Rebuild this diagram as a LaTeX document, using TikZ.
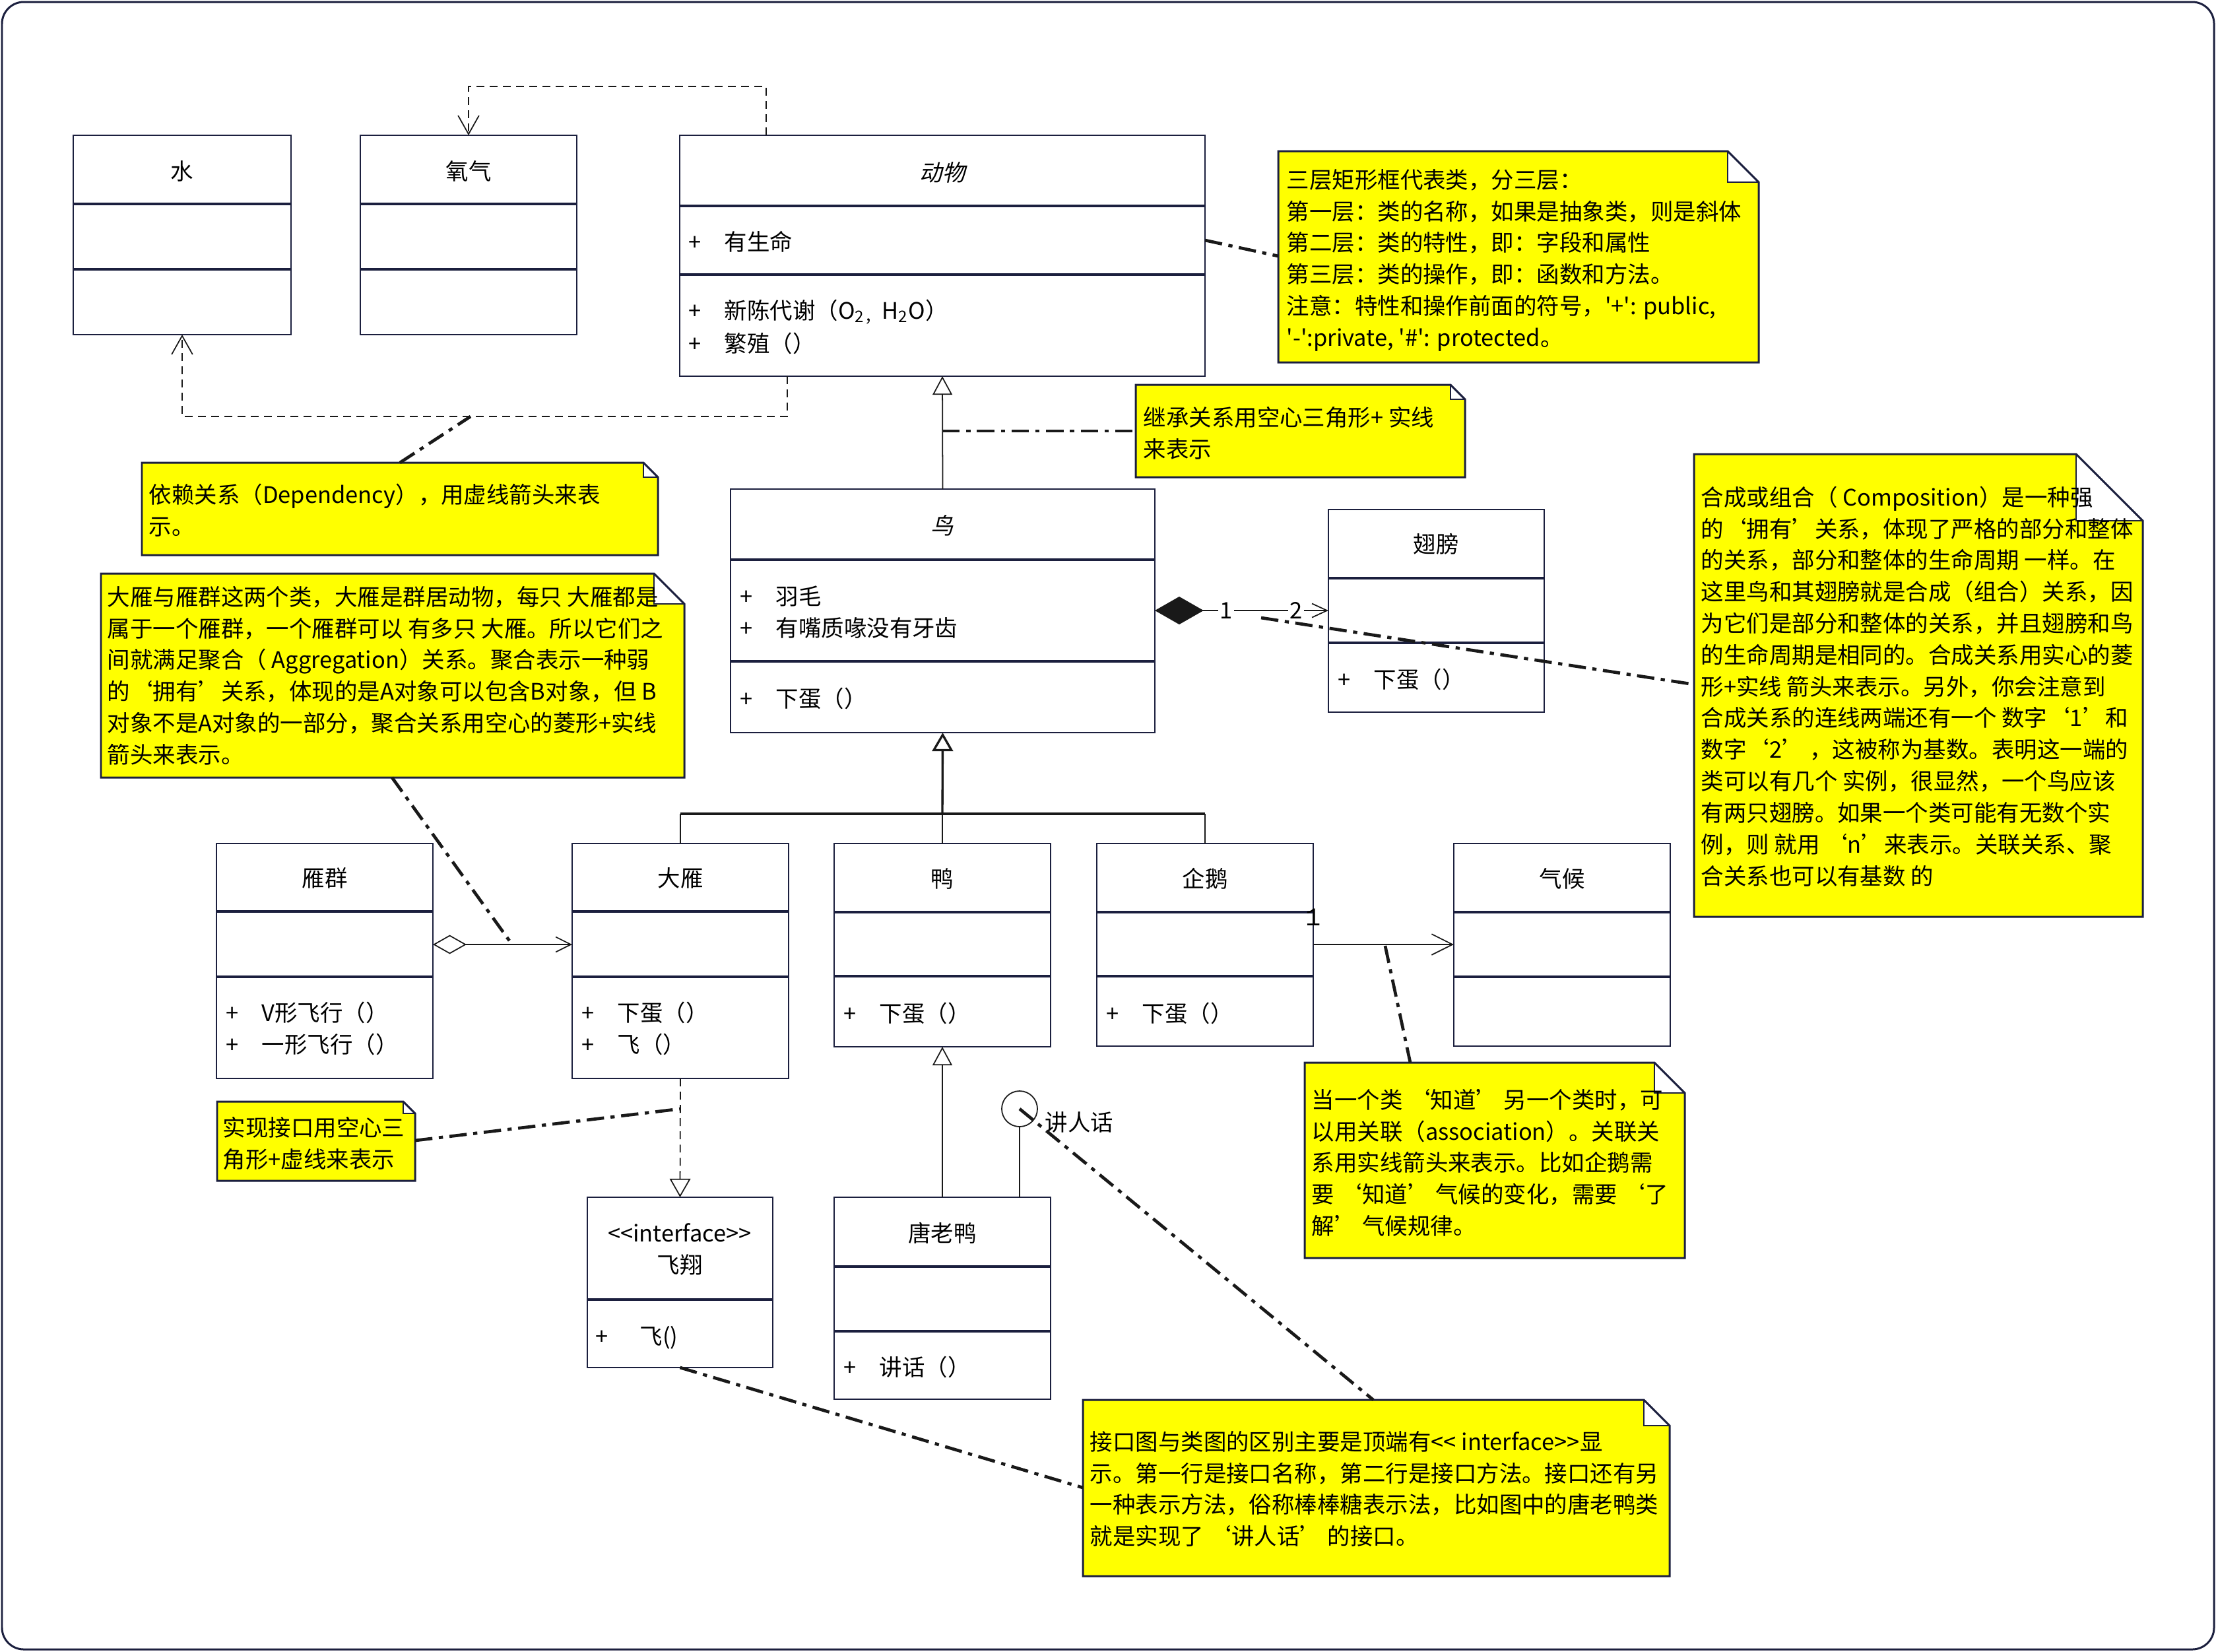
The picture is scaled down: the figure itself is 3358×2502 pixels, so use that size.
\documentclass[tikz,border=0pt]{standalone}
\usepackage{fontspec}
\setmainfont{Noto Sans CJK SC}[Ligatures=TeXOff]
\newfontfamily\slantfont{Noto Sans CJK SC}[FakeSlant=0.22]
\newfontfamily\digitfont{Liberation Mono}
\usetikzlibrary{arrows.meta,fit,calc}
\definecolor{navyline}{RGB}{27,31,62}
\definecolor{noteyellow}{RGB}{255,255,0}
\definecolor{connline}{RGB}{25,25,25}

\tikzset{
  clsbox/.style={draw=navyline, line width=0.6pt, inner sep=0pt, outer sep=0pt},
  clssep/.style={draw=navyline, line width=0.95pt},
  clsname/.style={inner sep=0pt, anchor=base},
  member/.style={inner sep=0pt, anchor=base west},
  noteshape/.style={fill=noteyellow},
  noteedge/.style={draw=navyline, line width=0.85pt, line join=miter},
  notefold/.style={draw=navyline, line width=0.5pt},
  notetext/.style={inner sep=0pt, anchor=north west, align=left},
  thinline/.style={draw=connline, line width=0.5pt},
  thickline/.style={draw=connline, line width=0.95pt},
  dep/.style={thinline, dash pattern=on 3.4pt off 2.3pt, -{Straight Barb[length=8pt,width=9pt]}},
  inherit/.style={thinline, -{Triangle[open,length=8pt,width=8.5pt]}},
  inheritthick/.style={thickline, -{Triangle[open,length=8pt,width=9pt]}},
  realize/.style={thinline, dash pattern=on 3.4pt off 2.3pt, -{Triangle[open,length=8pt,width=9pt]}},
  assoc/.style={thinline, -{Straight Barb[length=9pt,width=9pt]}},
  comp/.style={thinline, {Diamond[length=21pt,width=12pt]}-{Straight Barb[length=6.5pt,width=6pt]}},
  aggr/.style={thinline, {Diamond[open,length=14.5pt,width=8.2pt]}-{Straight Barb[length=6.5pt,width=6.5pt]}},
  noteconn/.style={draw=connline, line width=1.35pt, dash pattern=on 7.5pt off 2.8pt on 1.8pt off 2.8pt},
  multlabel/.style={inner sep=0.6pt, fill=white},
  frame/.style={draw=navyline, line width=0.85pt, rounded corners=0.33cm}
}

\newcommand\umlclass[7]{%
  \node[clsbox, fit={(#2,#3) (#4,#5)}] (#1) {};
  \draw[clssep] (#1.west |- 0,#6) -- (#1.east |- 0,#6);
  \draw[clssep] (#1.west |- 0,#7) -- (#1.east |- 0,#7);
}
\newcommand\umlnote[6]{%
  \node[fit={(#2,#3) (#4,#5)}, inner sep=0pt, outer sep=0pt] (#1) {};
  \fill[noteshape] (#2,#3) -- ({#4-#6},#3) -- ({#4-#6},{#3+#6}) -- (#4,{#3+#6}) -- (#4,#5) -- (#2,#5) -- cycle;
  \draw[noteedge] (#2,#3) -- ({#4-#6},#3) -- (#4,{#3+#6}) -- (#4,#5) -- (#2,#5) -- cycle;
  \draw[notefold] ({#4-#6},#3) -- ({#4-#6},{#3+#6}) -- (#4,{#3+#6});
}
\newcommand\mem[1]{\makebox[0.54cm][l]{+}#1}

\begin{document}
\begin{tikzpicture}[x=0.01cm, y=-0.01cm, font=\fontsize{9.8}{13.6}\selectfont]
\useasboundingbox (0,0) rectangle (3358,2502);
\draw[frame] (3,3) rectangle (3355,2499);

% ---------- classes ----------
\umlclass{water}{111}{205}{441}{507}{309}{408}
\node[clsname] (waterName) at (276,272) {水};

\umlclass{oxygen}{546}{205}{874}{507}{309}{408}
\node[clsname] (oxygenName) at (710,272) {氧气};

\umlclass{animal}{1030}{205}{1826}{570}{312}{416}
\node[clsname] (animalName) at (1428,274) {\slantfont 动物};
\node[member] (animalA1) at (1043,379) {\mem{有生命}};
\node[member] (animalO1) at (1043,483) {\mem{新陈代谢（O\textsubscript{2}\textsubscript{，}H\textsubscript{2}O）}};
\node[member] (animalO2) at (1043,533) {\mem{繁殖（）}};

\umlclass{bird}{1107}{741}{1750}{1110}{848}{1002}
\node[clsname] (birdName) at (1428,809) {\slantfont 鸟};
\node[member] (birdA1) at (1121,916) {\mem{羽毛}};
\node[member] (birdA2) at (1121,964) {\mem{有嘴质喙没有牙齿}};
\node[member] (birdO1) at (1121,1071) {\mem{下蛋（）}};

\umlclass{wing}{2013}{772}{2340}{1079}{876}{974}
\node[clsname] (wingName) at (2176,837) {翅膀};
\node[member] (wingO1) at (2027,1042) {\mem{下蛋（）}};

\umlclass{flock}{328}{1278}{656}{1634}{1381}{1480}
\node[clsname] (flockName) at (492,1343) {雁群};
\node[member] (flockO1) at (342,1547) {\mem{V形飞行（）}};
\node[member] (flockO2) at (342,1595) {\mem{一形飞行（）}};

\umlclass{dayan}{867}{1278}{1195}{1634}{1381}{1480}
\node[clsname] (dayanName) at (1031,1343) {大雁};
\node[member] (dayanO1) at (881,1547) {\mem{下蛋（）}};
\node[member] (dayanO2) at (881,1595) {\mem{飞（）}};

\umlclass{duck}{1264}{1278}{1592}{1586}{1382}{1479}
\node[clsname] (duckName) at (1428,1344) {鸭};
\node[member] (duckO1) at (1278,1548) {\mem{下蛋（）}};

\umlclass{penguin}{1662}{1278}{1990}{1585}{1382}{1479}
\node[clsname] (penguinName) at (1826,1344) {企鹅};
\node[member] (penguinO1) at (1676,1548) {\mem{下蛋（）}};

\umlclass{climate}{2203}{1278}{2531}{1585}{1382}{1480}
\node[clsname] (climateName) at (2367,1344) {气候};

\umlclass{tang}{1264}{1814}{1592}{2120}{1919}{2017}
\node[clsname] (tangName) at (1428,1881) {唐老鸭};
\node[member] (tangO1) at (1278,2084) {\mem{讲话（）}};

\node[clsbox, fit={(890,1814) (1171,2072)}] (iface) {};
\draw[clssep] (iface.west |- 0,1969) -- (iface.east |- 0,1969);
\node[clsname] (ifaceStereo) at (1030,1881) {<<interface>>};
\node[clsname] (ifaceName) at (1030,1929) {飞翔};
\node[member] (ifaceO1) at (902,2037) {\makebox[0.67cm][l]{+}飞()};

% ---------- notes ----------
\umlnote{noteA}{1937}{229}{2665}{549}{47}
\node[notetext] (noteAtext) at (1949,251) {\strut 三层矩形框代表类，分三层：\\第一层：类的名称，如果是抽象类，则是斜体\\第二层：类的特性，即：字段和属性\\第三层：类的操作，即：函数和方法。\\注意：特性和操作前面的符号，'+': public,\\'-':private, '\#': protected。};

\umlnote{noteB}{1721}{583}{2220}{723}{22}
\node[notetext] (noteBtext) at (1732,611) {\strut 继承关系用空心三角形+ 实线\\来表示};

\umlnote{noteC}{2567}{688}{3247}{1389}{101}
\node[notetext] (noteCtext) at (2577,732) {\strut 合成或组合（ Composition）是一种强\\的‘拥有’关系，体现了严格的部分和整体\\的关系，部分和整体的生命周期 一样。在\\这里鸟和其翅膀就是合成（组合）关系，因\\为它们是部分和整体的关系，并且翅膀和鸟\\的生命周期是相同的。合成关系用实心的菱\\形+实线 箭头来表示。另外，你会注意到\\合成关系的连线两端还有一个 数字‘1’和\\数字‘2’ ，这被称为基数。表明这一端的\\类可以有几个 实例，很显然，一个鸟应该\\有两只翅膀。如果一个类可能有无数个实\\例，则 就用 ‘n’来表示。关联关系、聚\\合关系也可以有基数 的};

\umlnote{noteD}{153}{869}{1037}{1178}{46}
\node[notetext] (noteDtext) at (162,883) {\strut 大雁与雁群这两个类，大雁是群居动物，每只 大雁都是\\属于一个雁群，一个雁群可以 有多只 大雁。所以它们之\\间就满足聚合（ Aggregation）关系。聚合表示一种弱\\的‘拥有’关系，体现的是A对象可以包含B对象，但 B\\对象不是A对象的一部分，聚合关系用空心的菱形+实线\\箭头来表示。};

\umlnote{noteE}{215}{701}{997}{841}{22}
\node[notetext] (noteEtext) at (225,728) {\strut 依赖关系（Dependency），用虚线箭头来表\\示。};

\umlnote{noteF}{1977}{1610}{2553}{1906}{46}
\node[notetext] (noteFtext) at (1987,1645) {\strut 当一个类 ‘知道’ 另一个类时，可\\以用关联（association）。关联关\\系用实线箭头来表示。比如企鹅需\\要 ‘知道’ 气候的变化，需要 ‘了\\解’ 气候规律。};

\umlnote{noteG}{329}{1669}{629}{1789}{18}
\node[notetext] (noteGtext) at (337,1687) {\strut 实现接口用空心三\\角形+虚线来表示};

\umlnote{noteH}{1641}{2121}{2530}{2388}{39}
\node[notetext] (noteHtext) at (1651,2163) {\strut 接口图与类图的区别主要是顶端有<< interface>>显\\示。第一行是接口名称，第二行是接口方法。接口还有另\\一种表示方法，俗称棒棒糖表示法，比如图中的唐老鸭类\\就是实现了 ‘讲人话’ 的接口。};

% ---------- relations ----------
\draw[dep] (animal.north -| 1161,0) -- (1161,131) -| (oxygen.north);
\draw[dep] (animal.south -| 1193,0) -- (1193,631) -| (water.south);

\draw[inherit] (bird.north) -- (animal.south);

\coordinate (bar) at (1428,1233);
\draw[inheritthick] (bar) -- (bird.south);
\draw[thickline] (dayan.north |- bar) -- (penguin.north |- bar);
\draw[thinline] (dayan.north |- bar) -- (dayan.north);
\draw[thinline] (bar) -- (duck.north);
\draw[thinline] (penguin.north |- bar) -- (penguin.north);

\draw[comp] (bird.east |- 0,925) -- (wing.west |- 0,925);
\node[multlabel] (compOne) at (1858,925) {1};
\node[multlabel] (compTwo) at (1964,925) {2};

\draw[aggr] (flock.east |- 0,1431) -- (dayan.west |- 0,1431);

\draw[assoc] (penguin.east |- 0,1431) -- (climate.west |- 0,1431);
\node[inner sep=0pt, font=\digitfont\fontsize{11}{12}\selectfont] (assocOne) at (1990,1390) {1};

\draw[realize] (dayan.south) -- (iface.north);

\draw[inherit] (tang.north) -- (duck.south);

\node[draw=connline, circle, minimum size=0.54cm, inner sep=0pt, line width=0.5pt] (lolli) at (1545,1680) {};
\draw[thinline] (tang.north -| lolli.south) -- (lolli.south);
\node[inner sep=0pt, anchor=base west] (lolliLabel) at (1583,1713) {讲人话};

% ---------- note connectors ----------
\coordinate (inhmid) at (1428,653);
\coordinate (compmid) at (1911,936);
\coordinate (aggmid) at (776,1431);
\coordinate (depmid) at (713,631);
\coordinate (assocmid) at (2099,1433);
\coordinate (realmid) at (1031,1680);
\draw[noteconn] (animal.east |- 0,364) -- (noteA.west |- 0,388);
\draw[noteconn] (inhmid) -- (noteB.west |- 0,653);
\draw[noteconn] (compmid) -- (noteC.west |- 0,1037);
\draw[noteconn] (noteD.south -| 594,0) -- (aggmid);
\draw[noteconn] (noteE.north -| 606,0) -- (depmid);
\draw[noteconn] (assocmid) -- (noteF.north -| 2137,0);
\draw[noteconn] (noteG.east |- 0,1728) -- (realmid);
\draw[noteconn] (iface.south) -- (noteH.west |- 0,2254);
\draw[noteconn] (lolli.center) -- (noteH.north -| 2081,0);
\end{tikzpicture}
\end{document}
